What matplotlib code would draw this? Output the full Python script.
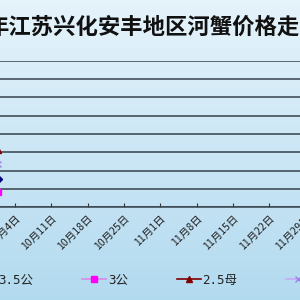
import numpy as np
import matplotlib
matplotlib.use("Agg")
import matplotlib.pyplot as plt

plt.rcParams['font.family'] = ['Noto Sans CJK SC', 'DejaVu Sans']

# day offsets from 10月4日
tick_days = [0, 7, 14, 21, 28, 35, 42, 49, 56]
tick_labels = ['10月4日', '10月11日', '10月18日', '10月25日', '11月1日',
               '11月8日', '11月15日', '11月22日', '11月29日']

data_days = [-3.2]
s_35gong = [15.4]
s_3gong = [8.5]
s_25mu = [31.0]
s_2mu = [23.6]

series_names = ['3.5公', '3公', '2.5母', '2母']

fig = plt.figure(figsize=(3, 3), dpi=100)

# gradient background
bg = fig.add_axes([0, 0, 1, 1], zorder=0)
top = np.array([0.90, 0.955, 0.985])
bot = np.array([0.70, 0.855, 0.94])
t = np.linspace(0, 1, 256)[:, None]
grad = (top * (1 - t) + bot * t)[:, None, :]
bg.imshow(grad, aspect='auto', extent=[0, 1, 0, 1])
bg.axis('off')

ax = fig.add_axes([-0.1, 0.309, 1.2, 0.4887], zorder=1)
ax.set_facecolor('none')

ax.plot(data_days, s_35gong, color='#000080', marker='D', markersize=4, lw=1)
ax.plot(data_days, s_3gong, color='#D88AE8', marker='s', markersize=4,
        markerfacecolor='#FF00FF', markeredgecolor='#FF00FF', lw=1.2)
ax.plot(data_days, s_25mu, color='#800000', marker='^', markersize=5, lw=1.2)
ax.plot(data_days, s_2mu, color='#C8A8F4', marker='x', markersize=5,
        markeredgecolor='#A080E8', lw=1.2)

ax.set_xlim(-8.67, 60.7)
ax.set_ylim(0, 80)
ax.set_yticks(np.arange(0, 81, 10))
ax.yaxis.grid(True, color='#35424c', lw=1.1)
ax.set_axisbelow(True)
for s in ['top', 'right', 'left']:
    ax.spines[s].set_visible(False)
ax.spines['bottom'].set_color('#3a4650')
ax.spines['bottom'].set_linewidth(1.1)
ax.set_yticklabels([])
ax.tick_params(axis='y', length=0)

ax.set_xticks(tick_days)
ax.set_xticklabels(tick_labels, rotation=45, ha='right', rotation_mode='anchor',
                   fontsize=7.6, color='#222222')
ax.tick_params(axis='x', direction='in', length=3, color='#333333', pad=4)

fig.text(-13.5 / 300, 1 - 27 / 300, '年江苏兴化安丰地区河蟹价格走势',
         fontsize=16.1, fontweight='bold', ha='left', va='center', color='#111111')

fig.legend(series_names, ncol=4, loc='center left', bbox_to_anchor=(-27 / 300, 1 - 280 / 300),
           frameon=False, handlelength=1.9, handletextpad=0.15,
           columnspacing=3.9, labelcolor='#222222', borderaxespad=0, borderpad=0,
           prop={'family': ['DejaVu Sans Mono', 'Noto Sans CJK SC'], 'size': 9})

fig.savefig('out.png', dpi=100)
